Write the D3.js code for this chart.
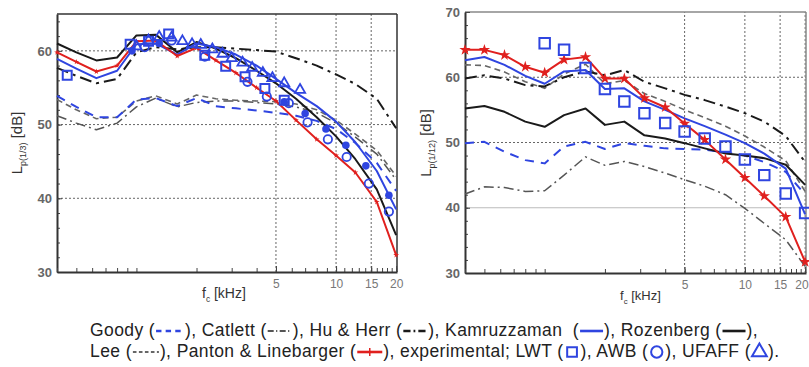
<!DOCTYPE html>
<html>
<head>
<meta charset="utf-8">
<script src="https://d3js.org/d3.v7.min.js"></script>
<style>
  body { margin: 0; background: #fff; }
  text { font-family: "Liberation Sans", Arial, sans-serif; }
</style>
</head>
<body>
<div id="chart"></div>
<script>
// third-octave band centres (kHz)
const bands = [0.4, 0.5, 0.63, 0.8, 1, 1.25, 1.6, 2, 2.5, 3.15, 4, 5, 6.3, 8, 10, 12.5, 16, 20];

// left panel, 1/3 octave levels [dB]
const goodyL       = [53.9, 52.4, 51.0, 51.0, 53.4, 53.6, 52.5, 53.6, 52.5, 52.2, 51.9, 51.6, 51.2, 50.5, 49.4, 47.5, 44.8, 41.0];
const catlettL     = [51.2, 50.2, 49.3, 50.2, 52.4, 53.6, 52.4, 53.0, 53.2, 53.2, 53.0, 52.8, 52.4, 51.6, 50.2, 48.3, 46.0, 42.5];
const huHerrL      = [57.7, 56.6, 55.6, 56.2, 59.8, 60.5, 60.2, 60.5, 60.5, 60.3, 60.1, 59.9, 59.0, 58.0, 56.8, 55.5, 53.5, 49.5];
const kamruzzamanL = [58.9, 57.6, 56.3, 57.3, 60.9, 61.0, 59.5, 61.0, 60.5, 59.5, 58.0, 56.2, 54.3, 52.5, 50.4, 47.6, 43.7, 38.5];
const rozenbergL   = [61.0, 59.8, 58.7, 59.1, 62.1, 62.2, 59.8, 61.2, 60.3, 59.0, 57.3, 55.6, 53.5, 51.0, 48.4, 45.3, 41.2, 35.0];
const leeL         = [53.4, 52.0, 50.8, 51.0, 53.2, 53.9, 52.8, 54.0, 53.5, 53.3, 53.2, 53.1, 52.8, 52.0, 50.6, 48.7, 46.5, 43.0];
const pantonL      = [59.8, 58.5, 57.2, 58.0, 61.3, 61.4, 59.3, 60.4, 58.7, 57.0, 55.0, 53.2, 50.6, 48.0, 45.8, 43.5, 39.5, 32.3];

// left panel, experiments [kHz, dB]
const lwtL = [[0.45, 56.7], [0.93, 60.9], [1.15, 61.3], [1.45, 62.3], [2.2, 59.4], [2.8, 57.9], [3.5, 56.5], [4.4, 54.9], [5.5, 53.3]];
const awbL = [[1.1, 60.5], [1.5, 61.4], [2.2, 59.2], [3.6, 55.8], [4.5, 53.8], [5.8, 52.9], [7.2, 50.3], [9.1, 48.0], [11.3, 45.6], [14.6, 42.0], [18.4, 38.2]];
const awbFilledL = [[0.95, 60.0], [1.3, 61.0], [5.5, 53.1], [7.0, 51.5], [8.9, 49.4], [11.2, 47.2], [14.1, 44.4], [18.4, 40.4]];
const ufaffL = [[1.0, 60.6], [1.15, 61.4], [1.3, 61.9], [1.5, 61.8], [1.7, 61.3], [1.9, 60.9], [2.1, 60.8], [2.4, 60.2],
                [2.7, 59.6], [3.0, 59.0], [3.4, 58.4], [3.8, 57.7], [4.3, 57.0], [4.8, 56.3], [5.5, 55.6], [6.6, 54.7]];

// right panel, 1/12 octave levels [dB]
const goodyR       = [49.9, 50.1, 48.6, 47.3, 46.8, 49.4, 50.1, 49.0, 49.9, 49.5, 49.1, 49.0, 48.9, 48.5, 48.0, 47.0, 45.5, 42.0];
const catlettR     = [42.1, 43.2, 43.1, 42.5, 42.6, 45.0, 47.8, 46.5, 47.1, 46.3, 45.3, 44.3, 43.3, 42.0, 39.9, 37.6, 35.1, 31.0];
const huHerrR      = [59.8, 60.3, 59.8, 58.8, 58.6, 60.0, 60.9, 60.3, 61.1, 59.3, 58.3, 57.3, 56.5, 55.5, 54.5, 53.2, 51.0, 47.0];
const kamruzzamanR = [62.6, 63.1, 61.9, 60.2, 59.0, 60.9, 61.1, 58.2, 58.3, 56.3, 55.0, 53.7, 52.5, 51.2, 49.9, 48.3, 46.0, 39.0];
const rozenbergR   = [55.2, 55.6, 54.7, 53.2, 52.4, 54.2, 55.2, 52.7, 53.2, 51.1, 50.6, 49.9, 49.1, 48.3, 48.0, 47.6, 46.6, 43.5];
const leeR         = [61.9, 61.8, 60.8, 59.3, 58.3, 60.5, 62.0, 59.0, 59.5, 57.5, 56.3, 55.0, 53.8, 52.5, 51.0, 49.3, 47.2, 42.5];
const pantonR      = [64.2, 64.2, 63.4, 61.6, 60.7, 62.7, 63.1, 59.8, 59.8, 56.8, 55.4, 52.9, 50.4, 47.4, 44.6, 41.8, 38.6, 31.7];

const lwtR = [[1.0, 65.2], [1.25, 64.2], [1.6, 61.4], [2.0, 58.2], [2.5, 56.3], [3.15, 54.5], [4, 53.0], [5, 51.7],
              [6.3, 50.6], [8, 49.4], [10, 47.4], [12.5, 45.0], [16, 42.2], [20, 39.2]];

const xTickLabels = [5, 10, 15, 20];
const xMinor = [0.4, 0.5, 0.6, 0.7, 0.8, 0.9, 1, 2, 3, 4, 5, 6, 7, 8, 9, 10, 11, 12, 13, 14, 15, 16, 17, 18, 19, 20];

const BLUE = "#2f45e0", RED = "#e0201e", BLACK = "#1a1a1a", GREY = "#555";

const styles = {
  goody:       {stroke: BLUE,  width: 2,   dash: "9,7"},
  catlett:     {stroke: GREY,  width: 1.5, dash: "10,4,2,4"},
  huHerr:      {stroke: BLACK, width: 2,   dash: "12,5,3,5"},
  kamruzzaman: {stroke: BLUE,  width: 2,   dash: null},
  rozenberg:   {stroke: BLACK, width: 2,   dash: null},
  lee:         {stroke: "#666", width: 1.6, dash: "6,4"},
  panton:      {stroke: RED,   width: 2,   dash: null}
};

const svg = d3.select("#chart").append("svg")
  .attr("width", 809).attr("height", 367);

function drawPanel(p) {
  const x = d3.scaleLog().domain([0.4, 20.2]).range(p.xr);
  const y = d3.scaleLinear().domain(p.yd).range(p.yr);
  const g = svg.append("g");

  // grid
  p.hGrid.forEach(v => {
    g.append("line")
      .attr("x1", p.xr[0]).attr("x2", p.xr[1])
      .attr("y1", y(v)).attr("y2", y(v))
      .attr("stroke", v === p.solidGrid ? "#bbb" : "#666")
      .attr("stroke-width", 1)
      .attr("stroke-dasharray", v === p.solidGrid ? null : "2,2");
  });
  p.vGrid.forEach(f => {
    g.append("line")
      .attr("x1", x(f)).attr("x2", x(f))
      .attr("y1", p.yr[0]).attr("y2", p.yr[1])
      .attr("stroke", "#666").attr("stroke-width", 1)
      .attr("stroke-dasharray", "2,2");
  });

  // frame top/right
  g.append("line").attr("x1", p.xr[0]).attr("x2", p.xr[1]).attr("y1", p.yr[1]).attr("y2", p.yr[1])
    .attr("stroke", p.frame).attr("stroke-width", 1.5);
  g.append("line").attr("x1", p.xr[1]).attr("x2", p.xr[1]).attr("y1", p.yr[0]).attr("y2", p.yr[1])
    .attr("stroke", p.frame).attr("stroke-width", 1.5);

  // axes
  const yMinor = d3.range(p.yd[0], p.yd[1] + 0.1, 2);
  g.append("g").attr("transform", `translate(${p.xr[0]},0)`)
    .call(d3.axisLeft(y).tickValues(yMinor).tickSizeInner(-3).tickSizeOuter(0).tickFormat(""))
    .call(a => a.select(".domain").remove());
  const ya = g.append("g").attr("transform", `translate(${p.xr[0]},0)`)
    .call(d3.axisLeft(y).tickValues(p.yTicks).tickSizeInner(-5).tickSizeOuter(0).tickPadding(5));
  ya.select(".domain").attr("stroke", "#333").attr("stroke-width", 2);
  ya.selectAll("text").attr("font-size", 13).attr("font-weight", "bold").attr("fill", "#666");

  g.append("g").attr("transform", `translate(0,${p.yr[0]})`)
    .call(d3.axisBottom(x).tickValues(xMinor).tickSizeInner(-4).tickSizeOuter(0).tickFormat(""))
    .call(a => a.select(".domain").remove());
  const xa = g.append("g").attr("transform", `translate(0,${p.yr[0]})`)
    .call(d3.axisBottom(x).tickValues(xTickLabels).tickSizeInner(-6).tickSizeOuter(0)
      .tickPadding(7).tickFormat(d3.format("d")));
  xa.select(".domain").attr("stroke", "#333").attr("stroke-width", 2);
  xa.selectAll("text").attr("font-size", 12).attr("fill", "#777");
  // last label sits at the page edge on the right panel
  if (p.xr[1] > 800) {
    xa.selectAll(".tick text").filter(d => d === 20).attr("text-anchor", "end").attr("dx", 3);
  }
  g.selectAll(".tick line").attr("stroke", "#444");

  // titles
  const yt = g.append("text")
    .attr("transform", `translate(${p.yTitle[0]},${p.yTitle[1]}) rotate(-90)`)
    .attr("text-anchor", "middle").attr("font-size", 15).attr("fill", "#333");
  yt.append("tspan").text("L");
  yt.append("tspan").attr("dy", 4).attr("font-size", 9).text(p.sub);
  yt.append("tspan").attr("dy", -4).text(" [dB]");

  const xt = g.append("text").attr("x", p.xTitle[0]).attr("y", p.xTitle[1])
    .attr("font-size", p.xTitleSize).attr("fill", "#333");
  xt.append("tspan").text("f");
  xt.append("tspan").attr("dy", 4).attr("font-size", p.xTitleSize * 0.6).text("c");
  xt.append("tspan").attr("dy", -4).text(" [kHz]");

  // model curves
  const line = d3.line().x((d, i) => x(bands[i])).y(d => y(d));
  p.series.forEach(([key, vals]) => {
    const s = styles[key];
    g.append("path").datum(vals)
      .attr("d", line)
      .attr("fill", "none")
      .attr("stroke", s.stroke)
      .attr("stroke-width", s.width)
      .attr("stroke-dasharray", s.dash)
      .attr("stroke-linejoin", "round");
  });
  g.selectAll(".panton-mark").data(p.pantonVals).enter().append("path")
    .attr("transform", (d, i) => `translate(${x(bands[i])},${y(d)})`)
    .attr("d", d3.symbol().type(d3.symbolStar).size(p.starSize))
    .attr("fill", RED);

  // experimental markers
  const sym = (type, size) => d3.symbol().type(type).size(size);
  (p.lwt || []).forEach(d => {
    g.append("path").attr("transform", `translate(${x(d[0])},${y(d[1])})`)
      .attr("d", sym(d3.symbolSquare, p.sqSize)).attr("fill", "none")
      .attr("stroke", BLUE).attr("stroke-width", 2);
  });
  (p.awb || []).forEach(d => {
    g.append("path").attr("transform", `translate(${x(d[0])},${y(d[1])})`)
      .attr("d", sym(d3.symbolCircle, 55)).attr("fill", "none")
      .attr("stroke", BLUE).attr("stroke-width", 1.8);
  });
  (p.awbFilled || []).forEach(d => {
    g.append("path").attr("transform", `translate(${x(d[0])},${y(d[1])})`)
      .attr("d", sym(d3.symbolCircle, 45)).attr("fill", BLUE);
  });
  (p.ufaff || []).forEach(d => {
    g.append("path").attr("transform", `translate(${x(d[0])},${y(d[1])})`)
      .attr("d", sym(d3.symbolTriangle, 45)).attr("fill", "none")
      .attr("stroke", BLUE).attr("stroke-width", 1.8);
  });
}

drawPanel({
  xr: [57, 397], yd: [30, 65], yr: [272, 14],
  yTicks: [30, 40, 50, 60], hGrid: [40, 50, 60], vGrid: [5, 10, 15], solidGrid: null,
  frame: "#333", sub: "p(1/3)", yTitle: [22, 143], xTitle: [202, 298], xTitleSize: 14,
  series: [["catlett", catlettL], ["lee", leeL], ["goody", goodyL], ["huHerr", huHerrL],
           ["rozenberg", rozenbergL], ["kamruzzaman", kamruzzamanL], ["panton", pantonL]],
  pantonVals: pantonL, starSize: 10,
  lwt: lwtL, awb: awbL, awbFilled: awbFilledL, ufaff: ufaffL, sqSize: 80
});

drawPanel({
  xr: [465, 806], yd: [30, 70], yr: [273, 12],
  yTicks: [30, 40, 50, 60, 70], hGrid: [40, 50, 60], vGrid: [5, 10, 15, 20], solidGrid: 40,
  frame: "#888", sub: "p(1/12)", yTitle: [431, 143], xTitle: [620, 300], xTitleSize: 13,
  series: [["catlett", catlettR], ["goody", goodyR], ["lee", leeR], ["huHerr", huHerrR],
           ["rozenberg", rozenbergR], ["kamruzzaman", kamruzzamanR], ["panton", pantonR]],
  pantonVals: pantonR, starSize: 40,
  lwt: lwtR, sqSize: 110
});

// legend, laid out as running text with inline symbols
const legendRows = [
  ["Goody (", "goody", "), Catlett (", "catlett", "), Hu & Herr (", "huHerr", "), Kamruzzaman  (", "kamruzzaman",
   "), Rozenberg (", "rozenberg", "),"],
  ["Lee (", "lee", "), Panton & Linebarger (", "panton", "), experimental; LWT (", "sq", "), AWB (", "circ",
   "), UFAFF (", "tri", ")."]
];
const symW = {goody: 30, catlett: 26, huHerr: 26, kamruzzaman: 25, rozenberg: 25, lee: 28, panton: 27, sq: 17, circ: 17, tri: 17};

function legendRow(parts, y0) {
  let x0 = 90;
  parts.forEach((p, i) => {
    if (i % 2 === 0) {
      const t = svg.append("text").attr("x", x0).attr("y", y0)
        .attr("font-size", 17.5).attr("letter-spacing", 0.4).attr("fill", "#222")
        .style("white-space", "pre").text(p);
      x0 += t.node().getComputedTextLength();
    } else {
      const w = symW[p], cy = y0 - 5;
      if (styles[p]) {
        const s = styles[p];
        svg.append("line").attr("x1", x0 + 1).attr("x2", x0 + w - 1).attr("y1", cy).attr("y2", cy)
          .attr("stroke", s.stroke).attr("stroke-width", s.width + 0.6)
          .attr("stroke-dasharray", s.dash ? s.dash.split(",").map(v => v * 0.6).join(",") : null);
        if (p === "panton") {
          svg.append("line").attr("x1", x0 + w / 2).attr("x2", x0 + w / 2).attr("y1", cy - 4).attr("y2", cy + 4)
            .attr("stroke", RED).attr("stroke-width", 1.5);
        }
      } else {
        const type = p === "sq" ? d3.symbolSquare : p === "circ" ? d3.symbolCircle : d3.symbolTriangle;
        svg.append("path").attr("transform", `translate(${x0 + w / 2},${cy})`)
          .attr("d", d3.symbol().type(type).size(p === "circ" ? 100 : 95))
          .attr("fill", "none").attr("stroke", BLUE).attr("stroke-width", 2);
      }
      x0 += w;
    }
  });
}
legendRow(legendRows[0], 336);
legendRow(legendRows[1], 357);
</script>
</body>
</html>
